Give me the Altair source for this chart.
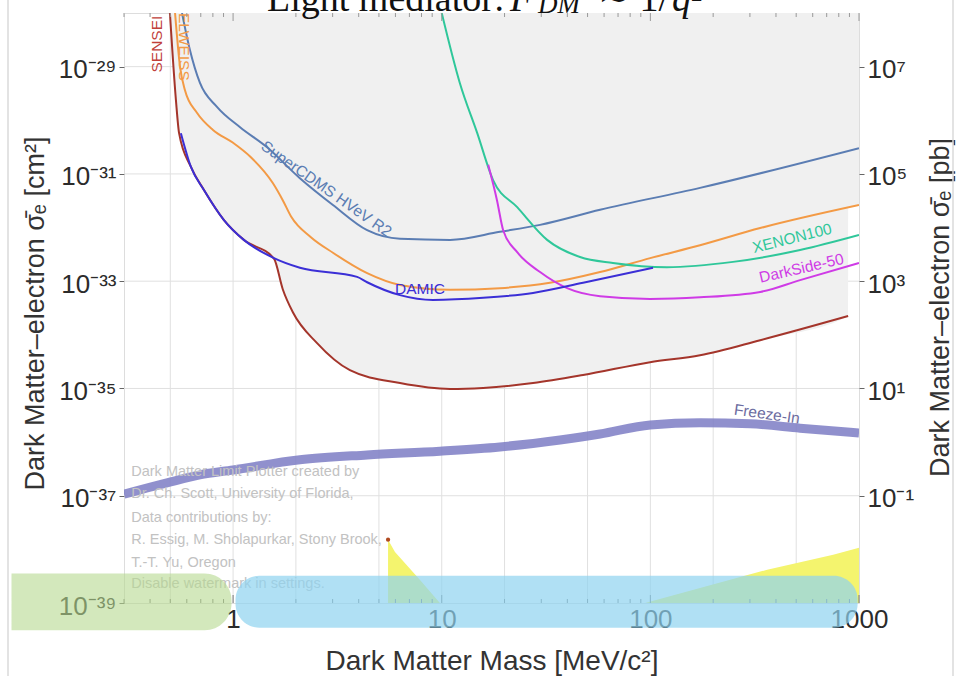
import altair as alt
import pandas as pd

# ---------------- axis ranges ----------------
X_DOMAIN = [0.3, 1000]          # dark matter mass [MeV]
Y_DOMAIN = [1e-39, 1e-28]       # cross section [cm^2]

# ---------------- exclusion curves (mass in MeV, log10 sigma in cm^2) ----------------
sensei_mass = [0.498, 0.532, 0.551, 0.628, 0.725, 0.904, 1.126, 1.57, 1.73, 1.94, 2.52,
               3.63, 6.31, 10.96, 15.8, 27.4, 47.6, 99.7, 173, 336, 887]
sensei_logxs = [-28.0, -29.62, -30.24, -30.87, -31.30, -31.86, -32.23, -32.58, -33.15, -33.59, -34.15,
                -34.66, -34.90, -35.01, -34.99, -34.90, -34.75, -34.51, -34.38, -34.10, -33.65]

edelweiss_mass = [0.527, 0.557, 0.588, 0.671, 0.801, 1.0, 1.21, 1.55, 1.73, 1.90, 2.36, 3.01,
                  4.39, 6.31, 10.96, 19.0, 33.0, 57.4, 99.8, 173, 336, 1000]
edelweiss_logxs = [-28.0, -29.01, -29.44, -29.86, -30.18, -30.42, -30.68, -31.17, -31.49, -31.80, -32.18, -32.47,
                   -32.85, -33.07, -33.16, -33.13, -33.03, -32.83, -32.57, -32.33, -32.01, -31.58]

supercdms_mass = [0.569, 0.621, 0.693, 0.837, 1.08, 1.45, 2.09, 3.01, 4.39, 6.31, 10.96,
                  19.0, 29.6, 57.4, 173, 1000]
supercdms_logxs = [-28.0, -28.69, -29.30, -29.75, -30.13, -30.50, -31.08, -31.58, -32.05, -32.21, -32.23,
                   -32.08, -31.95, -31.67, -31.26, -30.52]

xenon_mass = [10.0, 12.2, 14.8, 17.6, 23.0, 32.0, 46.0, 66.2, 120, 249, 522, 1000]
xenon_logxs = [-28.0, -29.30, -30.24, -31.11, -31.62, -32.23, -32.55, -32.66, -32.74, -32.64, -32.42, -32.14]

darkside_mass = [16.7, 18.4, 19.7, 23.0, 29.6, 39.9, 57.4, 99.8, 173, 336, 522, 1000]
darkside_logxs = [-30.83, -31.49, -32.05, -32.46, -32.83, -33.13, -33.28, -33.33, -33.30, -33.20, -32.98, -32.66]

damic_mass = [0.562, 0.628, 0.725, 0.904, 1.126, 1.57, 2.09, 3.93, 4.39, 6.31, 9.08, 15.8, 27.4, 47.6, 103]
damic_logxs = [-30.24, -30.87, -31.30, -31.86, -32.23, -32.57, -32.75, -32.92, -33.02, -33.26, -33.35,
               -33.31, -33.22, -33.03, -32.75]

# freeze-in target band
freezein_mass = [0.3, 0.482, 0.693, 1.0, 2.09, 4.39, 9.8, 19.0, 36.9, 57.4, 99.8, 173, 301, 522, 1000]
freezein_logxs = [-36.97, -36.76, -36.61, -36.52, -36.33, -36.24, -36.17, -36.09, -35.96, -35.85,
                  -35.68, -35.64, -35.66, -35.74, -35.83]

# upper edge of the excluded (shaded) region to the right of the last SENSEI point
fill_tail_mass = [888, 1000]
fill_tail_logxs = [-31.62, -31.58]

# yellow theory regions near the floor
yellow_low_mass = [5.53, 5.97, 7.87, 9.8]
yellow_low_logxs = [-37.82, -38.05, -38.57, -39.0]
yellow_high_mass = [94.4, 173, 363, 752, 1000]
yellow_high_logxs = [-39.0, -38.72, -38.38, -38.10, -37.97]

# curve labels: text, mass, log10 sigma, angle, colour
label_text = ["SENSEI", "EDELWEISS", "SuperCDMS HVeV R2", "DAMIC", "XENON100", "DarkSide-50", "Freeze-In"]
label_mass = [0.431, 0.580, 2.80, 7.87, 478, 530, 362]
label_logxs = [-28.58, -28.43, -31.28, -33.15, -32.20, -32.76, -35.48]
label_angle = [270, 90, 35, 0, 346, 347, 8]
label_color = ["#c0403a", "#f39a45", "#5b7db3", "#3b2fd6", "#2fc79a", "#cf3be6", "#6c6ca0"]

# plotter watermark
watermark_lines = ["Dark Matter Limit Plotter created by",
                   "Dr. Ch. Scott, University of Florida,",
                   "Data contributions by:",
                   "R. Essig, M. Sholapurkar, Stony Brook,",
                   "T.-T. Yu, Oregon",
                   "Disable watermark in settings."]
watermark_logxs = [-36.56, -36.97, -37.41, -37.82, -38.25, -38.65]
watermark_mass = 0.325

# grid and tick positions
x_grid = [0.5, 1, 2, 5, 10, 20, 50, 100, 200, 500]
y_grid_exp = [-29, -31, -33, -35, -37]
x_labels = [1, 10, 100, 1000]
left_exp = [-29, -31, -33, -35, -37, -39]
right_exp = [-29, -31, -33, -35, -37]
PB_SHIFT = 36    # 1 cm^2 = 1e36 pb

# highlight bands over the mass axis: (mass from, mass to, log10 top, log10 bottom)
green_band = [0.0867, 0.983, -38.45, -39.51]
blue_band = [1.027, 985, -38.49, -39.46]

# ---------------- helpers ----------------
FONT = "Liberation Sans"
SUP = str.maketrans("-0123456789", "⁻⁰¹²³⁴⁵⁶⁷⁸⁹")


def power_label(n):
    return "10" + str(n).translate(SUP)


def label_expr(exps, shift=0):
    parts = [f"round(log(datum.value)/LN10) == {n} ? '{power_label(n + shift)}'" for n in exps]
    return " : ".join(parts) + " : ''"


def frame(mass, logxs, floor=None):
    df = pd.DataFrame({"m": mass, "s": [10.0 ** e for e in logxs], "i": list(range(len(mass)))})
    if floor is not None:
        df["s2"] = floor
    return df


xscale = alt.Scale(type="log", domain=X_DOMAIN, nice=False)
yscale = alt.Scale(type="log", domain=Y_DOMAIN, nice=False)

x_axis = alt.Axis(values=x_labels, labelExpr="format(datum.value, 'd')", title="Dark Matter Mass [MeV/c²]",
                  titleFont=FONT, titleFontSize=28, titleFontWeight="normal", titleColor="#333333",
                  titleY=58, titleBaseline="middle",
                  labelFont=FONT, labelFontSize=26, labelColor="#2b2b2b", labelPadding=3,
                  labelFlush=False, labelOverlap=False, ticks=False, domain=False, grid=False)

X = alt.X("m:Q", scale=xscale, axis=x_axis)
Y = alt.Y("s:Q", scale=yscale, axis=None)

left_axis = alt.Axis(values=[10.0 ** n for n in left_exp], labelExpr=label_expr(left_exp),
                     title="Dark Matter–electron σ̄ₑ [cm²]", orient="left",
                     titleFont=FONT, titleFontSize=27, titleFontWeight="normal", titleColor="#333333",
                     titleAngle=270, titleX=-89, titleY=300, titleAlign="center", titleBaseline="middle",
                     labelFont=FONT, labelFontSize=26, labelColor="#2b2b2b", labelPadding=3, labelOffset=3,
                     labelOverlap=False, ticks=True, tickSize=5, tickColor="#666666",
                     domain=False, grid=False)

right_axis = alt.Axis(values=[10.0 ** n for n in right_exp], labelExpr=label_expr(right_exp, PB_SHIFT),
                      title="Dark Matter–electron σ̄ₑ [pb]", orient="right",
                      titleFont=FONT, titleFontSize=27, titleFontWeight="normal", titleColor="#333333",
                      titleAngle=270, titleX=81, titleY=294, titleAlign="center", titleBaseline="middle",
                      labelFont=FONT, labelFontSize=26, labelColor="#2b2b2b", labelPadding=3, labelOffset=3,
                      labelOverlap=False, ticks=True, tickSize=5, tickColor="#666666",
                      domain=False, grid=False)

# ---------------- layers ----------------
grid_x = alt.Chart(pd.DataFrame({"m": x_grid})).mark_rule(color="#e0e0e0", strokeWidth=1).encode(x=X)

grid_y = alt.Chart(pd.DataFrame({"s": [10.0 ** n for n in y_grid_exp]})).mark_rule(
    color="#e0e0e0", strokeWidth=1).encode(y=alt.Y("s:Q", scale=yscale, axis=right_axis))

envelope = frame(sensei_mass + fill_tail_mass, sensei_logxs + fill_tail_logxs, floor=Y_DOMAIN[1])
excluded = alt.Chart(envelope).mark_area(color="#f0f0f0", clip=True, interpolate="monotone").encode(
    x=X, y=alt.Y("s:Q", scale=yscale, axis=left_axis), y2="s2:Q")

yellow_low = alt.Chart(frame(yellow_low_mass, yellow_low_logxs, floor=Y_DOMAIN[0])).mark_area(
    color="#f4f46e", clip=True).encode(x=X, y=Y, y2="s2:Q")
yellow_high = alt.Chart(frame(yellow_high_mass, yellow_high_logxs, floor=Y_DOMAIN[0])).mark_area(
    color="#f4f46e", clip=True).encode(x=X, y=Y, y2="s2:Q")

freezein = alt.Chart(frame(freezein_mass, freezein_logxs)).mark_line(
    color="#7c7cc4", strokeWidth=9, opacity=0.85, clip=True, interpolate="monotone").encode(
    x=X, y=Y, order="i:Q")

curve_specs = [
    (sensei_mass, sensei_logxs, "#a4352b"),
    (edelweiss_mass, edelweiss_logxs, "#f39a45"),
    (supercdms_mass, supercdms_logxs, "#5b7db3"),
    (xenon_mass, xenon_logxs, "#2fc79a"),
    (darkside_mass, darkside_logxs, "#cf3be6"),
    (damic_mass, damic_logxs, "#3b2fd6"),
]
curves = [
    alt.Chart(frame(ms, es)).mark_line(color=c, strokeWidth=2, clip=True, interpolate="monotone").encode(
        x=X, y=Y, order="i:Q")
    for ms, es, c in curve_specs
]

dot = alt.Chart(frame(yellow_low_mass[:1], yellow_low_logxs[:1])).mark_circle(
    color="#b04a20", size=18, opacity=1).encode(x=X, y=Y)

labels_df = pd.DataFrame({"t": label_text, "m": label_mass, "s": [10.0 ** e for e in label_logxs],
                          "a": label_angle, "c": label_color})
labels = alt.Chart(labels_df).mark_text(font=FONT, fontSize=15.5, clip=True).encode(
    x=X, y=Y, text="t:N", angle=alt.Angle("a:Q", scale=None), color=alt.Color("c:N", scale=None))

wm_df = pd.DataFrame({"t": watermark_lines, "m": [watermark_mass] * len(watermark_lines),
                      "s": [10.0 ** e for e in watermark_logxs]})
watermark = alt.Chart(wm_df).mark_text(font=FONT, fontSize=14.5, color="#c2c2c2", align="left").encode(
    x=X, y=Y, text="t:N")

minor_ticks = [k * 10.0 ** d for d in range(-1, 3) for k in range(1, 10)
               if X_DOMAIN[0] <= k * 10.0 ** d <= X_DOMAIN[1] and k != 1]
major_ticks = [0.1 * 10 ** d for d in range(1, 5)]
tick_layers = []
for vals, length in [(minor_ticks, 4), (major_ticks, 8)]:
    tdf = pd.DataFrame({"m": vals})
    tick_layers.append(alt.Chart(tdf).mark_rule(color="#777777").encode(
        x=X, y=alt.value(590), y2=alt.value(590 - length)))
    tick_layers.append(alt.Chart(tdf).mark_rule(color="#999999").encode(
        x=X, y=alt.value(0), y2=alt.value(length)))

# heading: "Light mediator: F_DM ~ 1/q^2"
SERIF = "Liberation Serif"
title_parts = [
    ("Light mediator: ", 143, -2, 38, "normal"),
    ("F", 386, -2, 38, "italic"),
    ("DM", 414, 0, 27, "italic"),
    ("∼ 1/", 474, -2, 38, "normal"),
    ("q²", 548, -2, 38, "italic"),
]
title_layers = [
    alt.Chart(pd.DataFrame({"t": [txt]})).mark_text(
        font=SERIF, fontSize=fs, fontStyle=st, align="left", baseline="alphabetic", color="#111111"
    ).encode(text="t:N", x=alt.value(px), y=alt.value(py))
    for txt, px, py, fs, st in title_parts
]


# highlight bands on the mass axis
def band(spec, color, opacity, **radius):
    bdf = pd.DataFrame({"m": [spec[0]], "m2": [spec[1]], "s": [10.0 ** spec[2]], "s2": [10.0 ** spec[3]]})
    return alt.Chart(bdf).mark_rect(color=color, opacity=opacity, **radius).encode(
        x=X, x2="m2:Q", y=Y, y2="s2:Q")


green = band(green_band, "#b5d98f", 0.6, cornerRadiusTopRight=27, cornerRadiusBottomRight=27)
blue = band(blue_band, "#8fd3f0", 0.7, cornerRadius=24)

# thin page border lines
borders = [
    alt.Chart(pd.DataFrame({"k": [0]})).mark_rule(color="#dadada", strokeWidth=1.5).encode(
        x=alt.value(xv), y=alt.value(-13), y2=alt.value(663))
    for xv in (-116, 829)
]

chart = alt.layer(
    grid_x, grid_y, excluded, yellow_low, yellow_high, freezein, *curves, dot,
    labels, watermark, *tick_layers, *title_layers, green, blue, *borders
).resolve_scale(y="independent").properties(
    width=735, height=590,
    autosize=alt.AutoSizeParams(type="none"),
    padding={"left": 124, "top": 13, "right": 104, "bottom": 73},
).configure_view(stroke="#5a5a5a", strokeWidth=1).configure(background="white")

chart.save("out.html", embed_options={"renderer": "svg", "actions": False})
